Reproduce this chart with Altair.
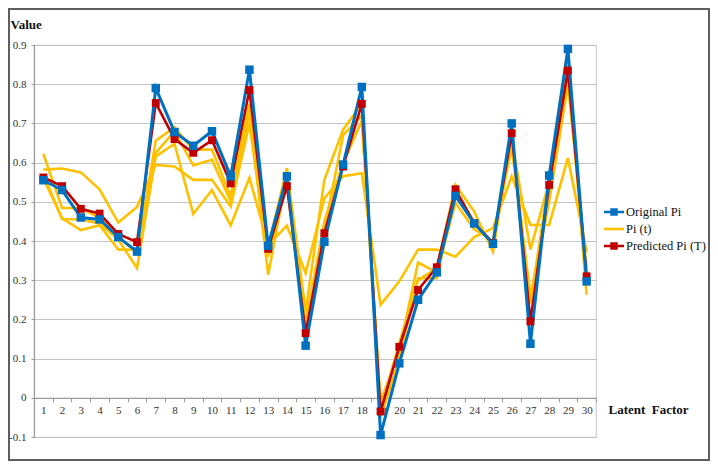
import altair as alt
import pandas as pd

# ---------------- data ----------------
factors = list(range(1, 31))

original_pi = [0.555, 0.530, 0.460, 0.455, 0.410, 0.373, 0.790, 0.678, 0.643, 0.680,
               0.565, 0.837, 0.388, 0.565, 0.133, 0.398, 0.595, 0.793, -0.095, 0.088,
               0.250, 0.320, 0.515, 0.445, 0.393, 0.700, 0.138, 0.567, 0.890, 0.297]

predicted_pi = [0.562, 0.540, 0.482, 0.470, 0.418, 0.397, 0.752, 0.660, 0.625, 0.657,
                0.547, 0.785, 0.380, 0.540, 0.165, 0.420, 0.590, 0.750, -0.035, 0.130,
                0.275, 0.333, 0.532, 0.445, 0.395, 0.675, 0.195, 0.543, 0.835, 0.310]

pi_t_1 = [0.622, 0.484, 0.484, 0.459, 0.410, 0.370, 0.656, 0.690, 0.633, 0.633,
          0.514, 0.750, 0.385, 0.586, 0.220, 0.556, 0.684, 0.750, -0.030, 0.140,
          0.300, 0.330, 0.543, 0.475, 0.373, 0.667, 0.241, 0.560, 0.853, 0.263]

pi_t_2 = [0.560, 0.458, 0.428, 0.440, 0.378, 0.378, 0.625, 0.680, 0.593, 0.607,
          0.501, 0.727, 0.314, 0.570, 0.170, 0.430, 0.670, 0.720, -0.050, 0.100,
          0.305, 0.305, 0.520, 0.450, 0.390, 0.660, 0.378, 0.550, 0.830, 0.300]

pi_t_3 = [0.570, 0.456, 0.455, 0.445, 0.403, 0.331, 0.616, 0.648, 0.469, 0.530,
          0.440, 0.561, 0.390, 0.439, 0.318, 0.509, 0.565, 0.573, 0.237, 0.297,
          0.378, 0.378, 0.360, 0.410, 0.433, 0.565, 0.441, 0.441, 0.612, 0.373]

pi_t_4 = [0.582, 0.585, 0.575, 0.532, 0.447, 0.487, 0.594, 0.590, 0.556, 0.556,
          0.488, 0.700, 0.360, 0.550, 0.190, 0.450, 0.600, 0.706, -0.010, 0.120,
          0.345, 0.320, 0.497, 0.430, 0.400, 0.640, 0.260, 0.500, 0.800, 0.330]

y_ticks = [-0.1, 0.0, 0.1, 0.2, 0.3, 0.4, 0.5, 0.6, 0.7, 0.8, 0.9]
x_boundaries = [k + 0.5 for k in range(0, 31)]

series_names = ["Original Pi", "Pi (t)", "Predicted Pi (T)"]
series_colors = ["#0070C0", "#FFC000", "#C00000"]

# ---------------- table ----------------
rows = []
for name, vals in [("orig", original_pi), ("pred", predicted_pi),
                   ("pt1", pi_t_1), ("pt2", pi_t_2), ("pt3", pi_t_3), ("pt4", pi_t_4)]:
    for f, v in zip(factors, vals):
        rows.append({"factor": f, "value": v, "line": name})
df = pd.DataFrame(rows)

W, H = 562, 392
SERIF = "Liberation Serif"

x_enc = alt.X(
    "factor:Q",
    scale=alt.Scale(domain=[0.5, 30.5], nice=False, zero=False),
    axis=alt.Axis(
        values=x_boundaries,
        labelExpr="datum.value < 30 ? toString(datum.value + 0.5) : ''",
        labelOffset=W / 30 / 2,
        labelFlush=False,
        labelOverlap=False,
        labelAlign="center",
        labelFont=SERIF,
        labelFontSize=11,
        labelColor="#333333",
        labelPadding=3,
        tickSize=4,
        tickColor="#9A9A9A",
        domainColor="#9A9A9A",
        domainWidth=1.2,
        grid=False,
        offset=-H * 0.1,
        title="Latent\u00a0 Factor",
        titleFont=SERIF,
        titleFontSize=13,
        titleFontWeight="bold",
        titleColor="#111111",
        titleAlign="left",
        titleBaseline="alphabetic",
        titleX=W + 12,
        titleY=16,
    ),
)

y_enc = alt.Y(
    "value:Q",
    scale=alt.Scale(domain=[-0.1, 0.9], nice=False, zero=False),
    axis=alt.Axis(
        values=y_ticks,
        labelExpr="toString(round(datum.value * 10) / 10)",
        labelFont=SERIF,
        labelFontSize=11,
        labelColor="#333333",
        labelPadding=5,
        tickSize=3,
        tickColor="#9A9A9A",
        domainColor="#9A9A9A",
        domainWidth=1.2,
        grid=True,
        gridColor="#C4C4C4",
        gridWidth=1.2,
        title="Value",
        titleFont=SERIF,
        titleFontSize=13,
        titleFontWeight="bold",
        titleColor="#111111",
        titleAngle=0,
        titleAlign="left",
        titleBaseline="alphabetic",
        titleX=-24,
        titleY=-17,
    ),
)

base = alt.Chart(df)

yellow = base.transform_filter(
    alt.FieldOneOfPredicate(field="line", oneOf=["pt1", "pt2", "pt3", "pt4"])
).mark_line(color="#FFC000", strokeWidth=2.6).encode(x=x_enc, y=y_enc, detail="line:N")

red_line = base.transform_filter(alt.datum.line == "pred").mark_line(
    color="#C00000", strokeWidth=2.6).encode(x=x_enc, y=y_enc)
blue_line = base.transform_filter(alt.datum.line == "orig").mark_line(
    color="#0070C0", strokeWidth=3).encode(x=x_enc, y=y_enc)
red_pts = base.transform_filter(alt.datum.line == "pred").mark_square(
    color="#C00000", size=62, opacity=1).encode(x=x_enc, y=y_enc)
blue_pts = base.transform_filter(alt.datum.line == "orig").mark_square(
    color="#0070C0", size=72, opacity=1).encode(x=x_enc, y=y_enc)

# legend (symbols built from the library's legend)
path_marker = ("M-1,-0.13L1,-0.13L1,0.13L-1,0.13Z "
               "M-0.37,-0.37L0.37,-0.37L0.37,0.37L-0.37,0.37Z")
path_line = "M-1,-0.13L1,-0.13L1,0.13L-1,0.13Z"
leg = alt.Legend(
    title=None,
    orient="none",
    legendX=W + 8,
    legendY=157,
    symbolSize=400,
    symbolStrokeWidth=0,
    symbolOpacity=1,
    labelFont=SERIF,
    labelFontSize=12.5,
    labelColor="#111111",
    labelOffset=2,
    rowPadding=-1,
)
legend_df = pd.DataFrame({"series": series_names})
legend_layer = alt.Chart(legend_df).mark_point(filled=True, opacity=1).encode(
    x=alt.value(-3000),
    y=alt.value(-3000),
    color=alt.Color("series:N", scale=alt.Scale(domain=series_names, range=series_colors), legend=leg),
    shape=alt.Shape("series:N", scale=alt.Scale(domain=series_names,
                                                range=[path_marker, path_line, path_marker]), legend=leg),
)

border = alt.Chart(pd.DataFrame({"a": [0]})).mark_rect(
    fill=None, stroke="#5E5E5E", strokeWidth=2
).encode(x=alt.value(-25), x2=alt.value(W + 113), y=alt.value(-36), y2=alt.value(H + 23))

chart = alt.layer(
    yellow, red_line, blue_line, red_pts, blue_pts, legend_layer, border
).properties(
    width=W,
    height=H,
    autosize=alt.AutoSizeParams(type="none"),
    padding={"left": 26, "top": 37, "right": 114, "bottom": 24},
    background="white",
).configure_view(
    stroke="#CFCFCF", strokeWidth=1.2
)

chart.save("out.html", embed_options={"renderer": "svg", "actions": False})
